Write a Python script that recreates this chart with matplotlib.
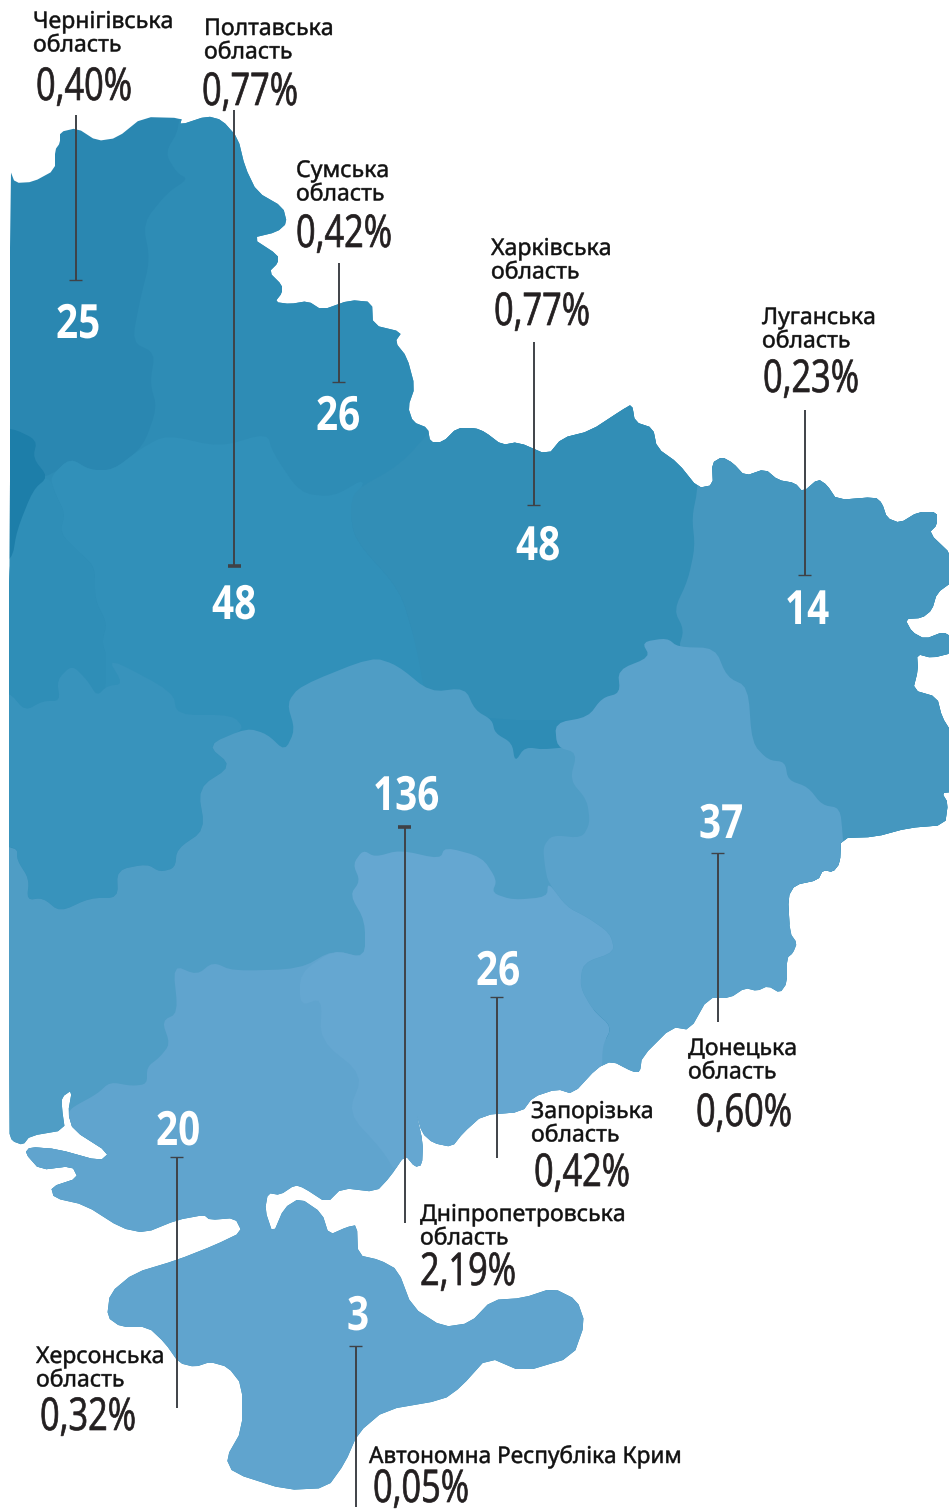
import matplotlib
matplotlib.use("Agg")
import matplotlib.pyplot as plt
import numpy as np
from matplotlib.patches import Polygon
from matplotlib.patheffects import AbstractPathEffect
from matplotlib.transforms import Affine2D

# region table
names = ["Чернігівська\nобласть", "Полтавська\nобласть", "Сумська\nобласть", "Харківська\nобласть",
         "Луганська\nобласть", "Донецька\nобласть", "Запорізька\nобласть", "Дніпропетровська\nобласть",
         "Херсонська\nобласть", "Автономна Республіка Крим"]
percents = ["0,40%", "0,77%", "0,42%", "0,77%", "0,23%", "0,60%", "0,42%", "2,19%", "0,32%", "0,05%"]
counts = ["25", "48", "26", "48", "14", "37", "136", "26", "20", "3"]

# where things go, in pixels of the picture
name_xy = [(33, 28), (204, 35), (296, 177), (491, 255), (762, 324), (688, 1055), (531, 1118), (420, 1221),
           (36, 1363), (369, 1463)]
name_sx = [1, 1, 1, 1, 1, 1, 1, 1, 1, 0.98]
pct_xy = [(36, 100), (202, 105), (296, 247), (494, 325), (763, 392), (696, 1126), (534, 1186), (420, 1285),
          (40, 1430), (373, 1502)]
count_xy = [(56, 338), (212, 619), (316, 430), (516, 560), (785, 624), (699, 838), (373, 810), (476, 985),
            (156, 1145), (347, 1330)]
# leader: x, y of the cap, y of the far end, cap thickness
leaders = [(76, 280, 115, 1.0), (234.5, 566, 110, 2.6), (339, 382, 263, 1.0), (534, 505, 342, 1.0),
           (805, 575, 410, 1.0), (718, 853, 1022, 1.0), (405, 827, 1223, 2.6), (497, 997, 1158, 1.0),
           (177, 1157, 1408, 1.0), (356, 1346, 1507, 1.0)]

# map shapes
land = [(10, 170), (15, 183), (33, 182), (55, 170), (55, 150), (60, 143), (60, 132), (77, 128), (97, 141),
        (117, 138), (143, 117), (182, 118), (180, 125), (207, 116), (222, 120), (238, 138), (245, 167),
        (257, 192), (283, 207), (287, 223), (277, 232), (252, 238), (278, 255), (278, 263), (269, 272),
        (282, 285), (282, 293), (275, 302), (290, 304), (308, 301), (322, 310), (350, 300), (372, 302),
        (373, 325), (402, 332), (395, 342), (407, 357), (415, 387), (408, 407), (413, 422), (428, 428),
        (430, 442), (443, 442), (457, 428), (475, 428), (485, 432), (502, 445), (518, 442), (548, 455),
        (562, 438), (590, 431), (622, 410), (632, 404), (635, 422), (653, 428), (657, 448), (678, 463),
        (698, 488), (713, 485), (712, 463), (722, 457), (733, 463), (745, 476), (765, 469), (778, 480),
        (795, 483), (803, 492), (818, 479), (827, 485), (837, 500), (875, 497), (882, 503), (887, 518),
        (900, 523), (918, 512), (937, 512), (937, 525), (929, 533), (952, 555), (952, 582), (937, 593),
        (932, 610), (922, 618), (905, 619), (912, 632), (925, 639), (943, 632), (952, 637), (952, 653),
        (932, 658), (917, 654), (918, 670), (913, 690), (937, 697), (942, 717), (952, 733), (952, 792),
        (942, 793), (948, 803), (945, 825), (908, 828), (875, 837), (841, 838), (840, 863), (833, 872),
        (823, 870), (818, 880), (795, 885), (788, 897), (790, 933), (797, 943), (793, 953), (787, 958),
        (787, 983), (780, 993), (768, 986), (757, 991), (745, 988), (730, 998), (708, 998), (690, 1030),
        (672, 1027), (642, 1057), (640, 1072), (633, 1072), (612, 1061), (597, 1068), (573, 1094),
        (557, 1089), (533, 1097), (522, 1112), (483, 1115), (463, 1133), (452, 1147), (433, 1143),
        (422, 1133), (416, 1112), (423, 1143), (422, 1165), (415, 1167), (405, 1155), (390, 1177),
        (376, 1192), (342, 1188), (327, 1203), (304, 1188), (295, 1185), (280, 1195), (268, 1193),
        (265, 1210), (273, 1234), (284, 1208), (300, 1198), (322, 1213), (329, 1235), (347, 1227),
        (357, 1225), (358, 1255), (380, 1260), (398, 1270), (412, 1307), (443, 1327), (470, 1323),
        (492, 1300), (523, 1298), (553, 1288), (577, 1300), (585, 1323), (573, 1357), (523, 1372),
        (488, 1357), (461, 1387), (443, 1400), (385, 1410), (358, 1433), (345, 1463), (327, 1488),
        (286, 1490), (233, 1473), (226, 1458), (242, 1430), (242, 1385), (228, 1367), (210, 1362),
        (195, 1367), (179, 1363), (165, 1343), (148, 1327), (121, 1327), (107, 1317), (110, 1293),
        (134, 1273), (177, 1260), (215, 1245), (242, 1232), (235, 1218), (210, 1220), (204, 1215),
        (177, 1220), (145, 1233), (121, 1228), (85, 1205), (54, 1198), (51, 1187), (78, 1178), (72, 1166),
        (40, 1170), (25, 1153), (30, 1147), (57, 1149), (100, 1161), (109, 1153), (73, 1130), (68, 1113),
        (72, 1090), (62, 1097), (62, 1109), (65, 1130), (30, 1136), (23, 1145), (12, 1141), (9, 1132),
        (9, 590), (10, 560)]

dark_patch = [(-20, 428), (12, 428), (37, 440), (33, 458), (48, 477), (33, 490), (17, 530), (12, 560), (-20, 580)]
column = [(180, 60), (180, 128), (165, 153), (177, 173), (188, 179), (167, 193), (143, 223), (150, 260),
          (140, 300), (132, 342), (155, 353), (150, 383), (157, 408), (143, 447), (113, 470), (90, 470),
          (70, 458), (50, 477), (-60, 500), (-60, 950), (1010, 950), (1010, 60)]
left_col = [(-20, 465), (50, 477), (55, 493), (65, 513), (60, 533), (80, 553), (95, 567), (95, 600), (107, 623),
            (102, 642), (107, 657), (123, 684), (60, 730), (-20, 730)]
middle = [(50, 477), (70, 458), (90, 470), (113, 470), (143, 447), (167, 435), (220, 447), (267, 433),
          (273, 453), (300, 493), (333, 497), (367, 477), (350, 510), (355, 540), (400, 590), (415, 640),
          (430, 692), (430, 800), (100, 800), (107, 657), (102, 642), (107, 623), (95, 600), (95, 567),
          (80, 553), (60, 533), (65, 513), (55, 493)]
kharkiv = [(355, 490), (400, 465), (440, 420), (700, 400), (700, 720), (430, 720), (415, 640), (400, 590),
           (355, 540), (350, 510)]
west_mid = [(-20, 692), (9, 692), (25, 711), (43, 701), (60, 701), (57, 680), (72, 665), (87, 680), (97, 696),
            (107, 686), (123, 684), (107, 657), (173, 692), (177, 715), (233, 715), (245, 730), (207, 745),
            (232, 766), (198, 788), (205, 830), (177, 849), (175, 868), (160, 872), (147, 864), (117, 870),
            (118, 898), (90, 898), (60, 912), (43, 898), (27, 900), (29, 879), (17, 860), (17, 847), (-20, 845)]
centre = [(-30, 845), (17, 847), (17, 860), (29, 879), (27, 900), (43, 898), (60, 912), (90, 898), (118, 898),
          (117, 870), (147, 864), (160, 872), (175, 868), (177, 849), (205, 830), (198, 788), (232, 766),
          (207, 745), (247, 728), (267, 734), (285, 751), (295, 730), (287, 703), (300, 686), (372, 657),
          (397, 665), (430, 692), (465, 688), (475, 710), (492, 720), (495, 733), (512, 743), (515, 762),
          (525, 747), (547, 750), (660, 735), (660, 1000), (300, 1100), (100, 1190), (-30, 1190)]
south = [(173, 965), (197, 975), (213, 962), (233, 971), (300, 969), (333, 950), (365, 958), (400, 1000),
         (600, 1000), (700, 1250), (700, 1560), (-60, 1560), (-60, 1150), (30, 1146), (68, 1132), (68, 1113),
         (73, 1107), (97, 1094), (110, 1082), (132, 1086), (147, 1084), (147, 1067), (160, 1057), (170, 1044),
         (162, 1021), (178, 1013)]
dnipro = [(300, 973), (333, 950), (365, 958), (365, 921), (350, 895), (360, 881), (353, 864), (363, 850),
          (375, 857), (400, 850), (440, 859), (445, 847), (482, 857), (497, 880), (492, 893), (513, 900),
          (547, 897), (548, 882), (567, 907), (587, 917), (610, 933), (615, 952), (583, 963), (580, 987),
          (593, 1010), (612, 1027), (602, 1047), (603, 1075), (560, 1180), (397, 1175), (383, 1151),
          (348, 1113), (363, 1075), (320, 1040), (322, 998), (300, 1006)]
luhansk = [(698, 400), (698, 488), (692, 517), (695, 547), (688, 580), (674, 610), (684, 630), (678, 650),
           (720, 760), (800, 900), (1020, 900), (1020, 400)]
donetsk = [(642, 642), (667, 638), (678, 647), (715, 648), (727, 677), (748, 687), (752, 743), (768, 760),
           (785, 762), (788, 780), (808, 787), (822, 805), (840, 808), (843, 837), (860, 1100), (603, 1100),
           (602, 1047), (612, 1027), (593, 1010), (580, 987), (583, 963), (615, 952), (610, 933), (587, 917),
           (567, 907), (548, 882), (545, 867), (543, 847), (552, 835), (582, 838), (590, 823), (587, 800),
           (570, 780), (577, 753), (557, 747), (555, 723), (588, 717), (602, 698), (620, 693), (618, 670),
           (650, 657)]


def smooth(pts, rounds=1):
    # corner cutting, takes the hard edges off the traced outlines
    pts = np.array(pts, dtype=float)
    for i in range(rounds):
        nxt = np.roll(pts, -1, axis=0)
        q = 0.8 * pts + 0.2 * nxt
        r = 0.2 * pts + 0.8 * nxt
        pts = np.empty((len(q) * 2, 2))
        pts[0::2] = q
        pts[1::2] = r
    return pts


class Squeeze(AbstractPathEffect):
    # no condensed font installed, so narrow the glyphs around the text anchor
    # and thicken them a little with a thin outline
    def __init__(self, sx, weight=0.0):
        super().__init__()
        self.sx = sx
        self.weight = weight

    def draw_path(self, renderer, gc, tpath, affine, rgbFace=None):
        gc0 = renderer.new_gc()
        gc0.copy_properties(gc)
        gc0.set_linewidth(self.weight)
        gc0.set_foreground(rgbFace)
        renderer.draw_path(gc0, tpath, Affine2D().scale(self.sx, 1) + affine, rgbFace)
        gc0.restore()


plt.rcParams['font.family'] = ['Open Sans', 'DejaVu Sans']

fig = plt.figure(figsize=(9.49, 15.12), dpi=100)
ax = fig.add_axes([0, 0, 1, 1])
ax.set_xlim(0, 949)
ax.set_ylim(1512, 0)
ax.axis('off')

land_patch = Polygon(smooth(land), closed=True, fc="#2A87B1", ec="none", zorder=1)
ax.add_patch(land_patch)

layers = [(column, "#2E8CB5"), (left_col, "#2F8EB7"), (dark_patch, "#1D7EA9"), (middle, "#3190B9"),
          (kharkiv, "#328EB6"), (west_mid, "#3893BC"), (centre, "#4F9DC5"), (south, "#60A4CE"),
          (dnipro, "#65A7D1"), (luhansk, "#4597BF"), (donetsk, "#5AA2CB")]
for i, (shape, col) in enumerate(layers):
    p = Polygon(smooth(shape, rounds=2), closed=True, fc=col, ec="none", zorder=2 + i * 0.01)
    ax.add_patch(p)
    p.set_clip_path(land_patch)

for name, sx, pct, cnt, nxy, pxy, cxy, ld in zip(names, name_sx, percents, counts, name_xy, pct_xy, count_xy,
                                                 leaders):
    for k, line in enumerate(name.split("\n")):
        ax.text(nxy[0], nxy[1] + k * 23.5, line, family="Noto Sans", fontsize=16.6, color="#111111",
                ha="left", va="baseline", zorder=6, path_effects=[Squeeze(sx, 0.35)])
    ax.text(pxy[0], pxy[1], pct, fontsize=32.5, color="#231f20", ha="left", va="baseline", zorder=6,
            path_effects=[Squeeze(0.76, 0.5)])
    ax.text(cxy[0], cxy[1], cnt, fontsize=34, fontweight="bold", color="white", ha="left", va="baseline",
            zorder=6, path_effects=[Squeeze(0.82)])
    x, y0, y1, th = ld
    ax.plot([x, x], [y0, y1], color="#3f4247", lw=1.4, solid_capstyle="butt", zorder=5)
    ax.plot([x - 6.5, x + 6.5], [y0, y0], color="#3f4247", lw=th, solid_capstyle="butt", zorder=5)

fig.savefig("out.png", dpi=100)
